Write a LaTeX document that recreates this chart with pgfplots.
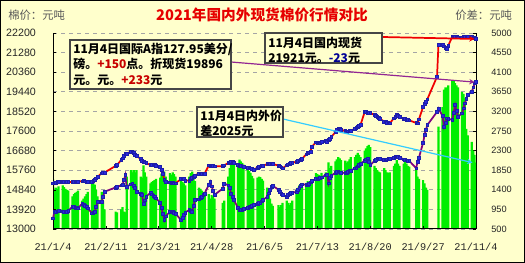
\documentclass[border=0pt]{standalone}
\usepackage{fontspec}
\setmainfont{Liberation Sans}
\setmonofont{Liberation Mono}
\newfontfamily\cjk{Noto Sans CJK SC}
\usepackage{pgfplots}
\pgfplotsset{compat=1.18}
\usepackage{pgfplotstable}
\usetikzlibrary{arrows.meta}
\definecolor{bg}{RGB}{255,255,204}
\definecolor{bargreen}{RGB}{0,238,0}
\definecolor{mk}{RGB}{40,40,225}
\definecolor{lnred}{RGB}{240,0,0}
\definecolor{lnpur}{RGB}{128,0,128}
\definecolor{cy}{RGB}{51,204,255}
\definecolor{gridc}{RGB}{165,165,165}
\definecolor{ttl}{RGB}{230,0,0}
\definecolor{txtg}{RGB}{90,90,90}
\definecolor{boxc}{RGB}{70,70,70}
\definecolor{plusred}{RGB}{200,0,0}
\definecolor{navy}{RGB}{0,0,150}

\pgfplotstableread{
day dom intl
0 15150 13500
1 15170 13810
2 15180 13820
3 15200 13830
4 15210 13840
7 15230 13830
8 15220 13820
9 15210 13810
10 15200 13800
11 15200 13860
14 15220 14050
15 15220 14030
16 15230 14010
17 15230 13990
18 15230 13970
21 15240 14200
22 15250 14150
23 15240 14100
24 15230 14050
25 15220 13970
28 15230 13740
29 15270 13770
30 15300 13800
31 15380 14040
32 15450 14280
35 15620 14280
36 15630 14500
37 15650 14750
45 15960 14950
46 16000 14970
49 16240 15050
50 16320 15070
51 16420 15300
52 16520 15530
53 16550 14990
56 16620 15100
57 16650 15140
58 16580 15040
59 16500 14950
60 16450 14750
63 16280 14640
64 16220 14600
65 16160 14200
66 16130 14350
67 16100 14520
70 16000 14700
71 16000 14630
72 16000 14570
73 16000 14500
74 15980 14440
77 15920 14250
78 15770 14000
79 15610 13700
80 15300 13420
81 15220 13600
84 15190 13810
85 15170 13810
86 15160 13810
87 15150 13770
88 15150 13730
92 15340 13420
93 15380 13540
94 15340 13660
95 15280 13780
98 15280 13900
99 15340 13850
100 15400 13810
101 15460 14090
102 15510 14360
105 15610 14400
106 15610 14470
107 15610 14530
108 15610 14600
109 15610 14670
112 15990 15080
113 15980 15220
114 15970 15010
115 15950 14800
116 15940 14600
122 15950 14900
123 15990 15140
126 16100 15050
127 16120 14920
128 16140 14670
129 16160 14520
130 16110 14360
133 16000 13990
134 15980 13890
135 15960 13910
136 15940 13920
137 15920 13940
140 15880 14000
141 15860 14030
142 15850 14060
143 15820 14100
144 15790 14130
147 15880 14200
148 15920 14220
149 15940 14250
150 15950 14300
151 15970 14360
154 16050 14520
155 16070 14680
156 16080 14840
157 16070 14990
158 16050 15020
162 15980 14850
163 15940 14750
164 15900 14670
165 15850 14600
168 15990 14520
169 16040 14600
170 16080 14670
171 16100 14690
172 16110 14700
175 16160 14750
176 16190 14840
177 16230 14930
178 16260 15020
179 16290 15100
182 16510 15080
183 16570 15070
184 16600 15130
185 16630 15190
186 16860 15250
189 17070 15340
190 17050 15360
191 17030 15380
192 17020 15400
193 17100 15430
196 17130 15520
197 17100 15550
198 17180 15150
199 17250 15400
200 17320 15500
203 17550 15650
204 17660 15700
205 17730 15680
206 17700 15660
207 17670 15640
210 17600 15630
211 17570 15650
212 17590 15680
213 17600 15720
214 17620 15750
217 17700 15850
218 17750 15880
219 17800 15940
220 17840 16000
221 17880 16060
224 18500 16220
225 18490 16270
226 18470 16320
227 18460 16160
228 18440 16000
231 18360 16200
232 18310 16260
233 18270 16320
234 18220 16300
235 18180 16290
238 18040 16240
239 18020 16250
240 17990 16270
241 17970 16290
242 17960 16300
245 18200 16360
246 18280 16380
247 18350 16390
248 18300 16390
249 18250 16360
252 18180 16270
253 18160 16240
254 18140 16230
255 18120 16210
256 18100 16200
261 17980 15850
262 17960 16160
263 18150 16350
266 18740 17050
267 18860 17410
268 18970 17650
269 19090 17880
276 20150 18500
277 21640 18660
280 21640 18300
281 21580 17800
282 21520 18000
283 21450 18200
284 21600 18180
287 22030 18120
288 22020 18470
289 22010 18820
290 22010 18550
291 22000 18270
294 22000 18430
295 22010 18670
296 22020 18900
297 22020 19100
298 22030 19290
301 22030 19450
302 22000 19650
303 21960 19840
304 21921 19896
}\lines

\pgfplotstableread{
day diff
0 1650
1 1400
2 1450
3 1420
4 1480
7 1500
8 1460
9 1420
10 1400
11 1380
14 1250
15 1300
16 1330
17 1350
18 1380
21 1150
22 1200
23 1250
24 1300
25 1350
28 1550
29 1560
30 1520
31 1400
32 1250
35 1350
36 1150
37 950
45 900
46 880
49 950
50 1000
51 900
52 880
53 1700
56 1850
57 1800
58 1850
59 1800
60 1850
63 1700
64 1680
65 1960
66 1800
67 1700
70 1550
71 1580
72 1600
73 1620
74 1650
77 1680
78 1770
79 1850
80 1820
81 1700
84 1780
85 1750
86 1800
87 1760
88 1700
92 1600
93 1580
94 1550
95 1500
98 1700
99 1780
100 1820
101 1750
102 1600
105 1450
106 1420
107 1380
108 1350
109 1300
112 1300
113 1200
114 1280
115 1250
116 1200
122 1100
123 1150
126 1700
127 1900
128 2000
129 2050
130 2000
133 2010
134 2090
135 2050
136 2020
137 1980
140 1880
141 1830
142 1790
143 1720
144 1660
147 1680
148 1700
149 1690
150 1650
151 1610
154 1450
155 1300
156 1200
157 1080
158 1030
162 1050
163 1000
164 1050
165 1100
168 1150
169 1100
170 1050
171 1100
172 1150
175 1400
176 1450
177 1500
178 1480
179 1460
182 1550
183 1600
184 1580
185 1560
186 1620
189 1780
190 1760
191 1740
192 1720
193 1790
196 1800
197 1780
198 2030
199 1900
200 1950
203 2050
204 2100
205 2150
206 2120
207 2080
210 2070
211 2020
212 2050
213 2100
214 2150
217 2150
218 2200
219 2250
220 2200
221 2150
224 2300
225 2350
226 2400
227 2430
228 2380
231 1950
232 1900
233 1850
234 1820
235 1800
238 1900
239 1850
240 1800
241 1790
242 1800
245 1950
246 2000
247 2080
248 2000
249 1950
252 2000
253 2050
254 2000
255 1950
256 1930
261 1900
262 1700
263 1650
266 1620
267 1550
268 1450
269 1400
277 2850
280 3300
281 3700
282 3750
283 3750
284 3800
287 3900
288 3900
289 3850
290 3800
291 3750
294 3650
295 3600
296 3500
297 2800
298 2650
301 2500
302 2300
303 2200
304 2025
}\bars

\begin{document}
\begin{tikzpicture}[x=0.75pt,y=0.75pt]
\fill[bg] (0,0) rectangle (525,263);

% right axis: price difference bars
\begin{axis}[
  at={(39.75pt,25.5pt)}, anchor=south west,
  scale only axis, width=317.25pt, height=147pt,
  xmin=0, xmax=304, ymin=500, ymax=5000,
  axis x line=none,
  axis y line*=right,
  ytick={500,950,1400,1850,2300,2750,3200,3650,4100,4550,5000},
  scaled y ticks=false,
  /pgf/number format/1000 sep={},
  /pgf/number format/assume math mode=true,
  yticklabel style={font=\fontsize{6.9}{8}\selectfont, text=black!85, xshift=8pt},
  ymajorgrids, grid style={gridc, dash pattern=on 3pt off 3pt, line width=0.6pt},
  tick align=inside, major tick length=2.2pt,
  every tick/.style={black},
  axis line style={black, line width=0.75pt},
]
\addplot[ybar, bar width=1.6, bar shift=0pt, fill=bargreen, draw=none] table[x=day,y=diff]{\bars};
\coordinate (endB) at (axis cs:301.5,2025);
\end{axis}

% left axis: prices
\begin{axis}[
  at={(39.75pt,25.5pt)}, anchor=south west,
  scale only axis, width=317.25pt, height=147pt,
  xmin=0, xmax=304, ymin=13000, ymax=22200,
  axis x line*=bottom, axis y line*=left,
  ytick={13000,13920,14840,15760,16680,17600,18520,19440,20360,21280,22200},
  xtick={0,38,76,114,152,190,228,266,304},
  xticklabels={21/1/4,21/2/11,21/3/21,21/4/28,21/6/5,21/7/13,21/8/20,21/9/27,21/11/4},
  scaled y ticks=false,
  /pgf/number format/1000 sep={},
  /pgf/number format/assume math mode=true,
  yticklabel style={font=\fontsize{8}{9}\selectfont, text=black!85, xshift=-9.3pt},
  xticklabel style={font=\ttfamily\fontsize{7.7}{8}\selectfont, text=black!85, yshift=-7.3pt},
  tick align=inside, major tick length=2.2pt,
  every tick/.style={black},
  axis line style={black, line width=0.75pt},
  clip=false,
]
\addplot[lnred, line width=1.3pt, mark=square*, mark size=1.05pt,
  mark options={solid, fill=mk, draw=mk!75!black, line width=0.4pt}] table[x=day,y=dom]{\lines};
\addplot[lnpur, line width=1.3pt, mark=square*, mark size=1.05pt,
  mark options={solid, fill=mk, draw=mk!75!black, line width=0.4pt}] table[x=day,y=intl]{\lines};
\coordinate (endD) at (axis cs:303,21921);
\coordinate (endI) at (axis cs:303,19896);
\end{axis}

% titles
\node[text=ttl, font=\cjk\bfseries\fontsize{11}{13}\selectfont] at (262,248) {2021年国内外现货棉价行情对比};
\node[anchor=west, inner sep=0, text=txtg, font=\cjk\fontsize{8.5}{10}\selectfont] at (8,248) {棉价：元吨};
\node[anchor=west, inner sep=0, text=txtg, font=\cjk\fontsize{8.5}{10}\selectfont] at (455,248) {价差：元吨};

% pointer lines
\draw[lnred, line width=1.3pt, -{Stealth[length=4pt,width=4pt]}] (382,226) -- (endD);
\draw[lnpur!85, line width=0.9pt, -{Stealth[length=4pt,width=4pt]}] (231,201) -- (endI);
\draw[cy, line width=0.9pt, -{Stealth[length=4pt,width=4pt]}] (283,144) -- (endB);

% annotation boxes
\filldraw[fill=bg, draw=boxc, line width=1pt] (70,223) rectangle (231,174);
\node[anchor=west, inner sep=0, font=\cjk\bfseries\fontsize{9}{10}\selectfont] at (73,214) {11月4日国际A指127.95美分/};
\node[anchor=west, inner sep=0, font=\cjk\bfseries\fontsize{9}{10}\selectfont] at (73,199) {磅。\textcolor{plusred}{+150}点。折现货19896};
\node[anchor=west, inner sep=0, font=\cjk\bfseries\fontsize{9}{10}\selectfont] at (73,183) {元。元。\textcolor{plusred}{+233}元};

\filldraw[fill=bg, draw=boxc, line width=1pt] (265,230) rectangle (382,200);
\node[anchor=west, inner sep=0, font=\cjk\bfseries\fontsize{9}{10}\selectfont] at (268,220) {11月4日国内现货};
\node[anchor=west, inner sep=0, font=\cjk\bfseries\fontsize{9}{10}\selectfont] at (268,205) {21921元。\textcolor{navy}{-23}元};

\filldraw[fill=bg, draw=boxc, line width=1pt] (197,156) rectangle (283,126);
\node[anchor=west, inner sep=0, font=\cjk\bfseries\fontsize{9}{10}\selectfont] at (200,147) {11月4日内外价};
\node[anchor=west, inner sep=0, font=\cjk\bfseries\fontsize{9}{10}\selectfont] at (200,132) {差2025元};

\draw[black, line width=0.75pt] (0.5,0.5) rectangle (524.5,262.5);
\pgfresetboundingbox
\path[use as bounding box] (0,0) rectangle (525,263);
\end{tikzpicture}
\end{document}
